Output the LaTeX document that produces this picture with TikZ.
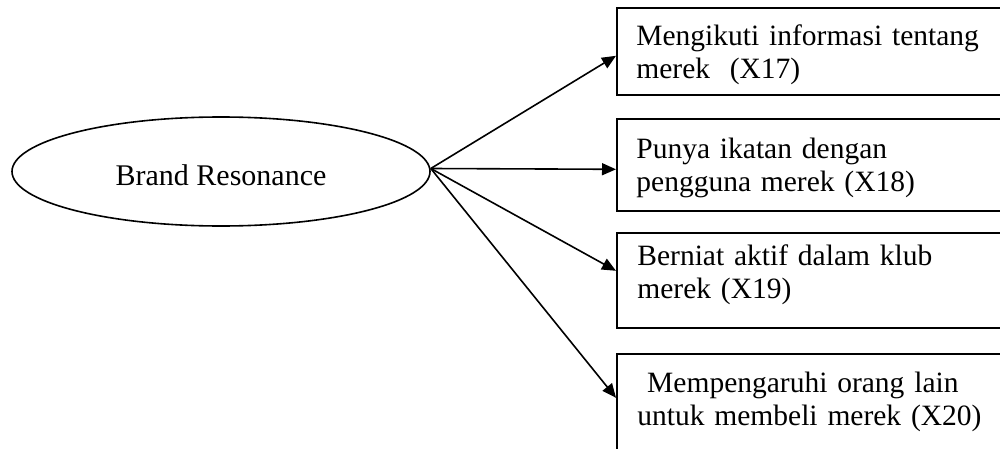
\documentclass[tikz,border=0pt]{standalone}
\usepackage{fontspec}
\setmainfont{Liberation Serif}
\usetikzlibrary{shapes.geometric,arrows.meta}
\begin{document}
\begin{tikzpicture}[x=0.5pt,y=-0.5pt,
  itembox/.style={draw, line width=0.8pt, anchor=north west, minimum width=215pt, inner sep=0pt},
  itemtext/.style={anchor=base west, inner sep=0pt, text width=185pt, align=left,
    font=\fontsize{14.75pt}{16.5pt}\selectfont},
  link/.style={line width=0.8pt, -{Triangle[length=7pt,width=6pt]}}]
\useasboundingbox (0,0) rectangle (1000,449);
\clip (0,0) rectangle (1000,449);

% central construct
\node[draw, ellipse, line width=0.8pt, minimum width=209pt, minimum height=54.5pt,
      inner sep=0pt, font=\fontsize{15pt}{16.5pt}\selectfont,
      text height=13.5pt, text depth=0pt] (br) at (221,171.5) {Brand Resonance};

% indicator boxes (open past the right and bottom edges)
\node[itembox, minimum height=43.5pt] (b1) at (616,7) {};
\node[itembox, minimum height=46pt]   (b2) at (616,118) {};
\node[itembox, minimum height=47.5pt] (b3) at (616,232) {};
\node[itembox, minimum height=63pt]   (b4) at (616,353) {};

% indicator labels
\node[itemtext] (t1) at (636,46)  {Mengikuti informasi tentang\\merek~ (X17)};
\node[itemtext] (t2) at (636,158) {Punya ikatan dengan\\pengguna merek (X18)};
\node[itemtext] (t3) at (637,265) {Berniat aktif dalam klub\\merek (X19)};
\node[itemtext] (t4) at (637,392) {\ Mempengaruhi orang lain\\untuk membeli merek (X20)};

% loadings, all leaving the right tip of the ellipse
\coordinate (src) at ([yshift=1.5pt]br.east);
\draw[link] (src) -- ([yshift=-2.25pt]b1.west);
\draw[link] (src) -- ([yshift=-2.25pt]b2.west);
\draw[link] (src) -- ([yshift=4.75pt]b3.west);
\draw[link] (src) -- ([yshift=9.5pt]b4.west);
\end{tikzpicture}
\end{document}
